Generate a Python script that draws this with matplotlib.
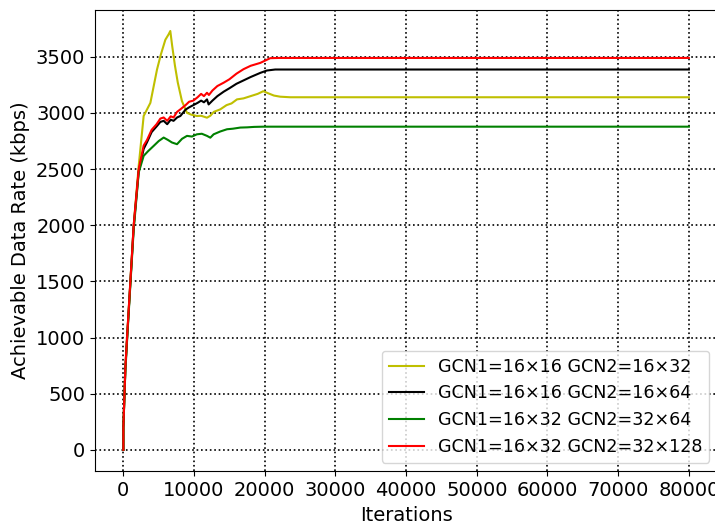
"""
Achievable data rate vs. iterations for four GCN layer configurations.
"""
import matplotlib
matplotlib.use("Agg")
import matplotlib.pyplot as plt

# values
yel_it = [0, 0, 280, 520, 990, 1460, 2170, 2870, 3820, 4760, 5300, 5940, 6400, 6640,
          6900, 7300, 7700, 8290, 9000, 9600, 10400, 11000, 11830, 12300, 12800, 13700,
          14600, 15300, 16070, 17000, 18000, 19000, 19800, 20500, 21300, 22190, 23600, 80000]
yel_val = [0, 200, 730, 1000, 1500, 2000, 2530, 2973, 3090, 3387, 3520, 3652, 3700, 3730,
           3600, 3420, 3270, 3105, 3001, 2985, 2973, 2975, 2958, 2975, 3010, 3032,
           3070, 3085, 3121, 3130, 3150, 3170, 3194, 3175, 3155, 3145, 3140, 3140]

blk_it = [0, 0, 280, 520, 990, 1460, 2170, 2870, 3350, 4000, 4700, 5230, 5700, 6200,
          6700, 7100, 7600, 8060, 8800, 9300, 9900, 10500, 11000, 11400, 11830, 12060,
          12600, 13300, 14200, 15000, 16000, 17000, 18000, 19370, 20300, 21480, 80000]
blk_val = [0, 200, 720, 990, 1490, 1990, 2480, 2680, 2740, 2830, 2880, 2920, 2930, 2900,
           2940, 2930, 2960, 2973, 3030, 3050, 3070, 3090, 3110, 3095, 3121, 3076,
           3110, 3150, 3190, 3220, 3260, 3290, 3320, 3357, 3378, 3387, 3387]

grn_it = [0, 0, 280, 520, 990, 1460, 2170, 2870, 3500, 4290, 5000, 5700, 6300, 6880,
          7590, 8300, 9000, 9700, 10400, 11100, 11830, 12300, 12770, 13700, 14660,
          15500, 16540, 17500, 18500, 19800, 80000]
grn_val = [0, 200, 700, 970, 1470, 1960, 2470, 2618, 2660, 2707, 2750, 2781, 2760, 2737,
           2722, 2770, 2796, 2790, 2810, 2815, 2796, 2780, 2810, 2835, 2855,
           2860, 2870, 2872, 2876, 2878, 2878]

red_it = [0, 0, 280, 520, 990, 1460, 2170, 2870, 3350, 4000, 4700, 5230, 5700, 6200,
          6700, 7100, 7600, 8060, 8800, 9300, 9900, 10500, 11000, 11400, 11830, 12100,
          12600, 13300, 14200, 15000, 16000, 17000, 18000, 19370, 20780, 22000, 80000]
red_val = [0, 200, 730, 1000, 1500, 2000, 2500, 2710, 2760, 2850, 2900, 2950, 2960, 2930,
           2970, 2960, 3010, 3032, 3070, 3100, 3110, 3140, 3170, 3150, 3180, 3160,
           3200, 3240, 3270, 3300, 3350, 3390, 3420, 3446, 3488, 3490, 3490]

labels = [
    "GCN1=16×16 GCN2=16×32",
    "GCN1=16×16 GCN2=16×64",
    "GCN1=16×32 GCN2=32×64",
    "GCN1=16×32 GCN2=32×128",
]

plt.rcParams["font.family"] = "DejaVu Sans"
plt.rcParams["font.size"] = 14

fig = plt.figure(figsize=(7.15, 5.29), dpi=100)
ax = fig.add_axes([0.133, 0.110, 0.870, 0.871])

ax.plot(yel_it, yel_val, color="y", lw=1.5, label=labels[0])
ax.plot(blk_it, blk_val, color="k", lw=1.5, label=labels[1])
ax.plot(grn_it, grn_val, color="g", lw=1.5, label=labels[2])
ax.plot(red_it, red_val, color="r", lw=1.5, label=labels[3])

ax.set_xticks(range(0, 80001, 10000))
ax.set_yticks(range(0, 3501, 500))
ax.grid(True, color="black", linestyle=":", linewidth=1.2)
ax.set_xlabel("Iterations", fontsize=14, labelpad=5)
ax.set_ylabel("Achievable Data Rate (kbps)", fontsize=14)
ax.tick_params(labelsize=14)
ax.legend(loc="lower right", fontsize=12.6, handlelength=2.0,
          borderaxespad=0.45)

fig.savefig("out.png", dpi=100)
